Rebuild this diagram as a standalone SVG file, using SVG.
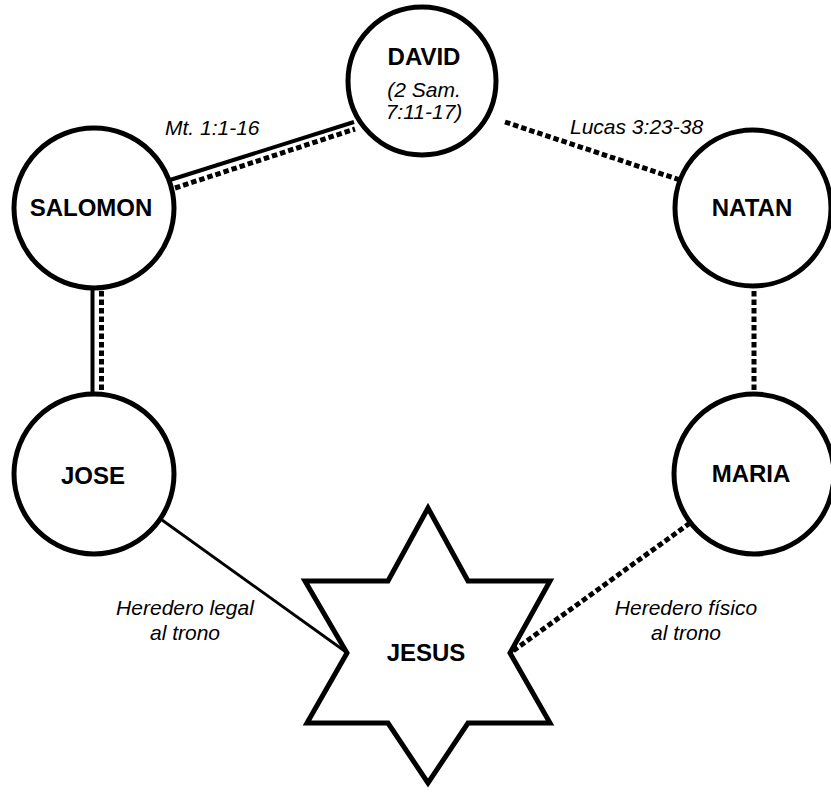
<svg xmlns="http://www.w3.org/2000/svg" width="831" height="794" viewBox="0 0 831 794">
<style>
.node{fill:#fff;stroke:#000;stroke-width:5}
.name{font-family:"Liberation Sans",Arial,sans-serif;font-weight:bold;font-size:24px;text-anchor:middle;fill:#000}
.ref{font-family:"Liberation Sans",Arial,sans-serif;font-style:italic;font-size:21px;fill:#000}
.solid{stroke:#000;stroke-width:4;fill:none}
.thin{stroke:#000;stroke-width:2.8;fill:none}
.dot{stroke:#000;stroke-width:5;stroke-dasharray:5.5 3;fill:none}
</style>
<rect width="831" height="794" fill="#fff"/>
<g id="connectors">
  <line class="solid" x1="170" y1="180" x2="354" y2="122"/>
  <line class="dot" x1="175" y1="188" x2="355" y2="129"/>
  <line class="dot" x1="505" y1="122" x2="680" y2="180"/>
  <line class="solid" x1="92.5" y1="289" x2="92.5" y2="395"/>
  <line class="dot" x1="101.5" y1="291" x2="101.5" y2="394"/>
  <line class="dot" x1="754" y1="291" x2="754" y2="394"/>
  <line class="thin" x1="162" y1="520" x2="346" y2="652"/>
  <line class="dot" x1="690" y1="523" x2="513" y2="651"/>
</g>
<g id="labels">
  <text class="ref" x="165" y="135">Mt. 1:1-16</text>
  <text class="ref" x="570" y="134">Lucas 3:23-38</text>
  <text class="ref" x="185" y="615" text-anchor="middle">Heredero legal</text>
  <text class="ref" x="185" y="640" text-anchor="middle">al trono</text>
  <text class="ref" x="686" y="615" text-anchor="middle">Heredero físico</text>
  <text class="ref" x="686" y="640" text-anchor="middle">al trono</text>
</g>
<g id="david">
  <circle class="node" cx="422" cy="81" r="74"/>
  <text class="name" x="424" y="65">DAVID</text>
  <text class="ref" x="424" y="97" text-anchor="middle">(2 Sam.</text>
  <text class="ref" x="424" y="119" text-anchor="middle">7:11-17)</text>
</g>
<g id="salomon">
  <circle class="node" cx="94" cy="208" r="80"/>
  <text class="name" x="91" y="216">SALOMON</text>
</g>
<g id="natan">
  <circle class="node" cx="753" cy="208" r="78"/>
  <text class="name" x="752" y="216">NATAN</text>
</g>
<g id="jose">
  <circle class="node" cx="94" cy="474" r="80"/>
  <text class="name" x="93" y="484">JOSE</text>
</g>
<g id="maria">
  <circle class="node" cx="754" cy="474" r="80"/>
  <text class="name" x="751" y="482">MARIA</text>
</g>
<g id="jesus">
  <polygon class="node" stroke-width="6" stroke-linejoin="miter" points="428,508 388,581 305,581 347,653 307,723 388,723 428,783 468,723 550,723 510,653 550,581 468,581"/>
  <text class="name" x="426" y="661" font-size="22">JESUS</text>
</g>
</svg>
